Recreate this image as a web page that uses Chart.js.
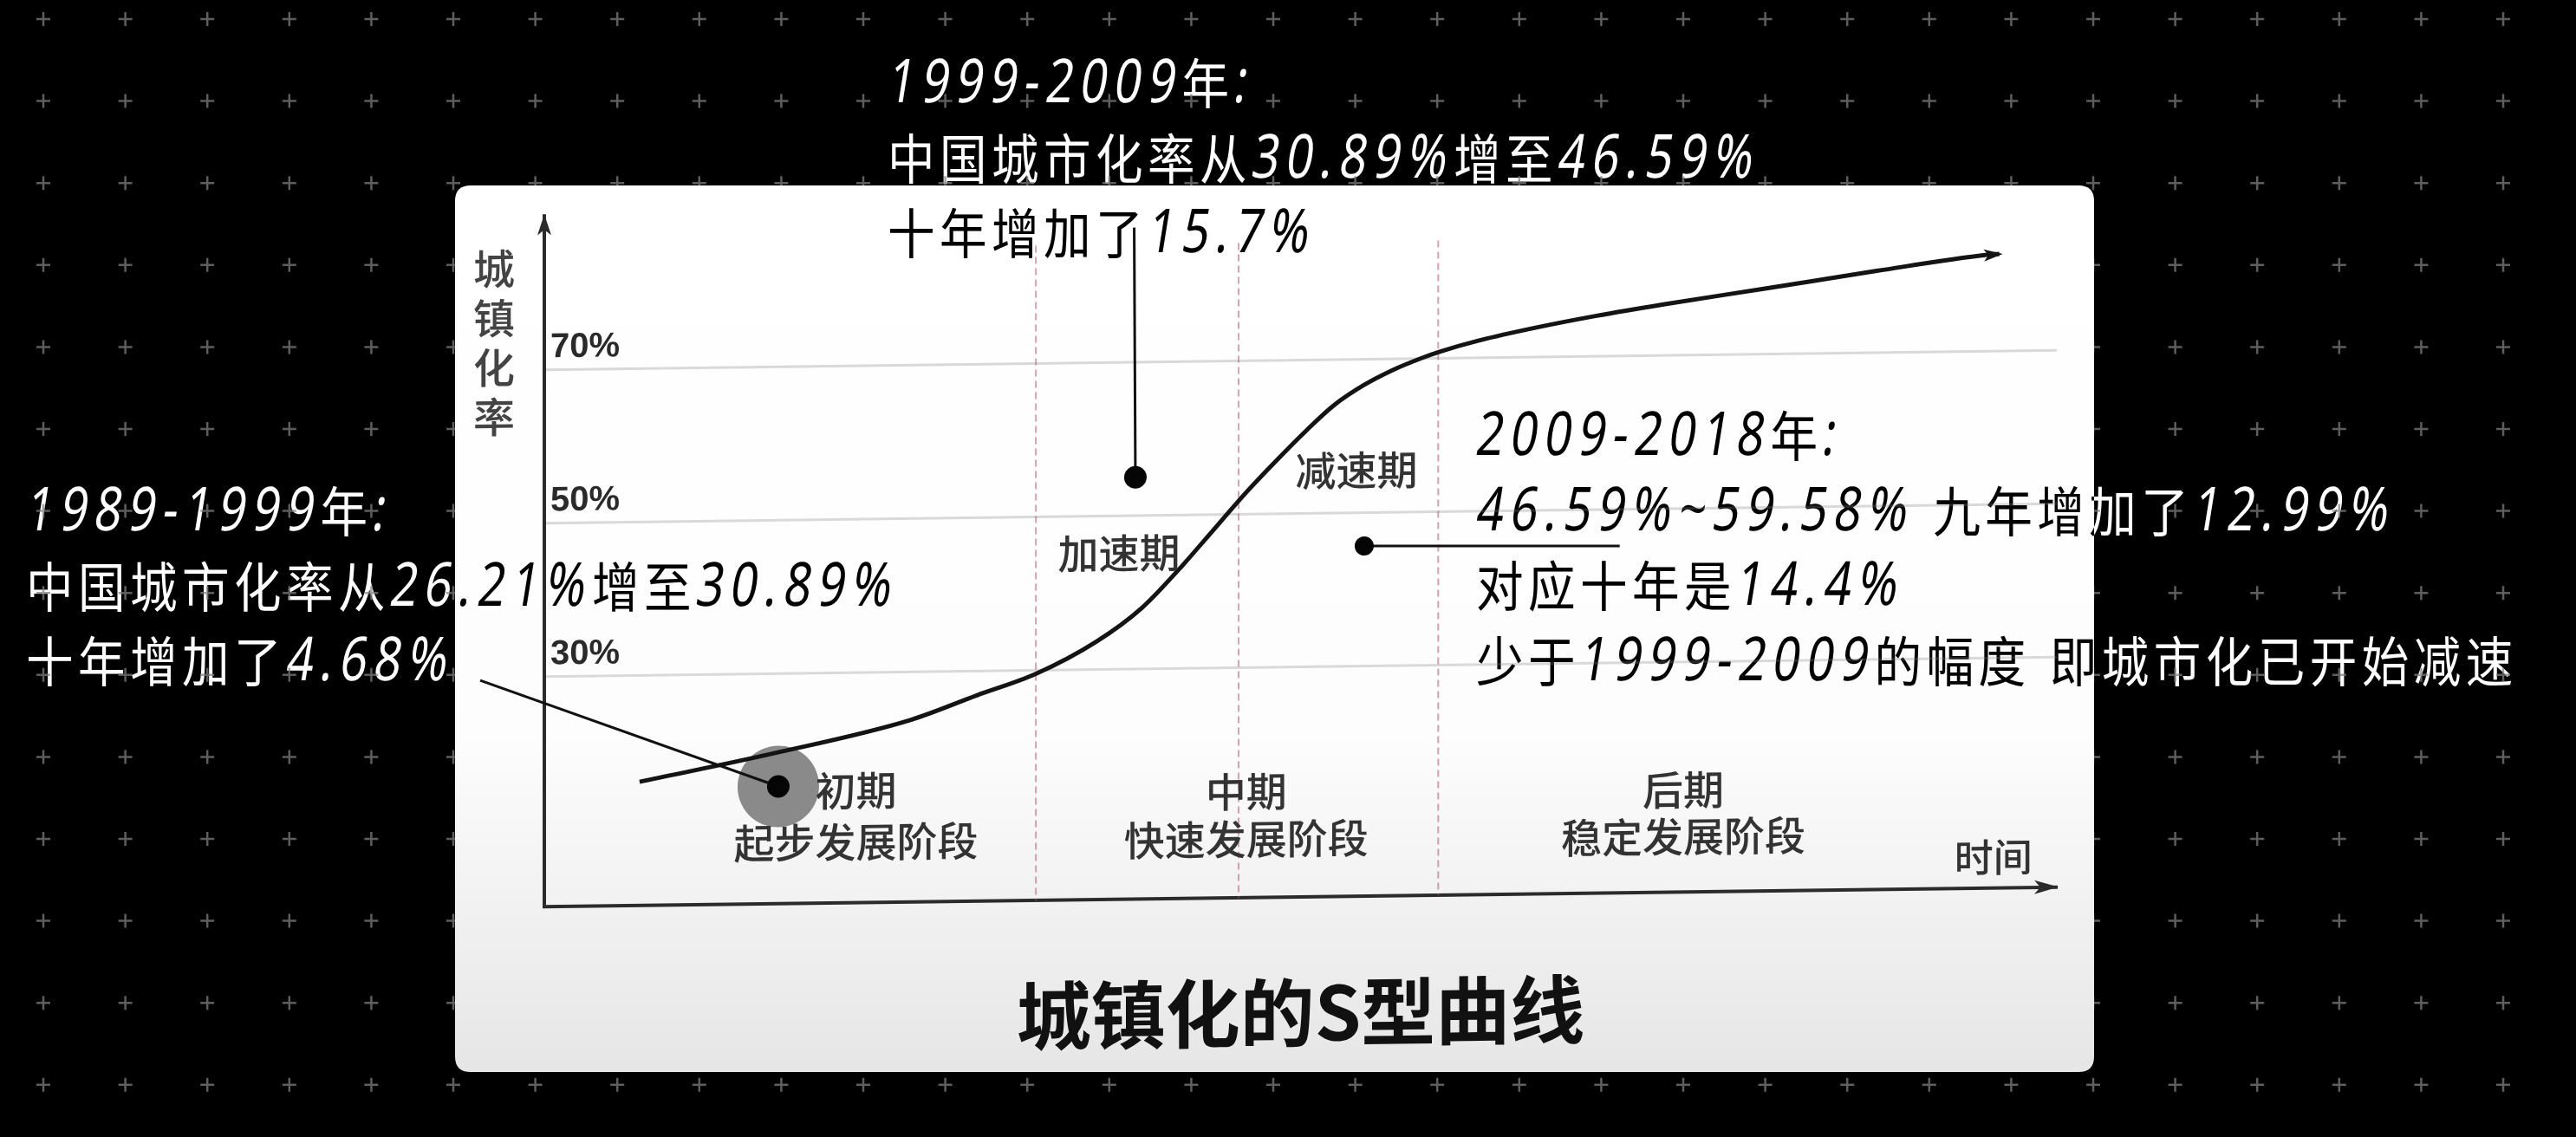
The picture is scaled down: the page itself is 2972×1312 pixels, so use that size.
<!DOCTYPE html>
<html>
<head>
<meta charset="utf-8">
<script src="https://cdn.jsdelivr.net/npm/chart.js@4.4.1/dist/chart.umd.min.js"></script>
<style>
html,body{margin:0;padding:0;background:#000;overflow:hidden}
canvas{display:block}
</style>
</head>
<body>
<canvas id="c" width="2972" height="1312" style="width:2972px;height:1312px"></canvas>
<script>
// ---------------- data ----------------
const timeIndex = [6.3, 15.2, 24.2, 28.6, 32.5, 36.5, 39.5, 42.2, 43.9, 46.5, 48.4, 50.4, 52.2, 54.2, 56.1, 58.0, 59.2, 61.8, 65.6, 69.5, 74.0, 80.8, 88.1, 95.4, 96.2];
const urbanRate = [16.1, 19.6, 23.7, 26.8, 29.5, 33.6, 37.9, 43.4, 47.2, 53.0, 56.9, 60.8, 64.0, 66.6, 68.5, 70.0, 70.8, 72.2, 73.8, 75.2, 76.6, 78.5, 80.6, 82.5, 82.6];
const yTickValues = [30, 50, 70];
const phaseBoundaries = [32.5, 45.9, 59.1];
const phaseNames = ['初期', '中期', '后期'];
const phaseStages = ['起步发展阶段', '快速发展阶段', '稳定发展阶段'];
const trendNames = ['加速期', '减速期'];
const axisTitleY = '城镇化率';
const axisTitleX = '时间';
const chartTitle = '城镇化的S型曲线';
const noteTop = ['1999-2009年:', '中国城市化率从30.89%增至46.59%', '十年增加了15.7%'];
const noteLeft = ['1989-1999年:', '中国城市化率从26.21%增至30.89%', '十年增加了4.68%'];
const noteRight = ['2009-2018年:', '46.59%~59.58% 九年增加了12.99%', '对应十年是14.4%', '少于1999-2009的幅度 即城市化已开始减速'];

// ---------------- placement (data coordinates / layout) ----------------
const anchors = {
  phaseName: [[20.6, 14.6], [46.4, 13.8], [75.3, 13.3]],
  phaseStage: [[20.6, 7.9], [46.4, 7.6], [75.3, 7.2]],
  trend: [[38.0, 45.1], [53.7, 55.5]],
  xTitle: [95.8, 4.0],
  yTitleTop: 83.2,
  boundaryTop: 85.3,
  markers: [
    { dot: [15.47, 15.26], from: [-4.24, 29.6], r: 13, halo: 47 },
    { dot: [39.08, 54.95], from: [39.0, 87.5], r: 13, halo: 0 },
    { dot: [54.21, 45.61], from: [71.1, 45.18], r: 11, halo: 0 }
  ]
};
const noteBlocks = [
  { lines: noteTop, x: 1022, y: 118 },
  { lines: noteLeft, x: 28, y: 612 },
  { lines: noteRight, x: 1701, y: 525 }
];
const NOTE_LH = 86.5;
const SHEAR = -0.013, PIVOT = 1500;

function roundRect(ctx, x, y, w, h, r) {
  ctx.beginPath();
  ctx.moveTo(x + r, y);
  ctx.lineTo(x + w - r, y); ctx.quadraticCurveTo(x + w, y, x + w, y + r);
  ctx.lineTo(x + w, y + h - r); ctx.quadraticCurveTo(x + w, y + h, x + w - r, y + h);
  ctx.lineTo(x + r, y + h); ctx.quadraticCurveTo(x, y + h, x, y + h - r);
  ctx.lineTo(x, y + r); ctx.quadraticCurveTo(x, y, x + r, y);
  ctx.closePath();
}
function arrowHead(ctx, x, y, ang, len, half) {
  ctx.save();
  ctx.translate(x, y); ctx.rotate(ang);
  ctx.beginPath();
  ctx.moveTo(0, 0); ctx.lineTo(-len, -half); ctx.lineTo(-len * 0.75, 0); ctx.lineTo(-len, half);
  ctx.closePath(); ctx.fill();
  ctx.restore();
}
function isWide(ch) { return ch.charCodeAt(0) > 0x2E7F; }
function drawNoteLine(ctx, str, x, y) {
  const cjk = '400 62px "Noto Sans CJK SC", sans-serif';
  const lat = '400 70px "Noto Sans", "DejaVu Sans", sans-serif';
  for (const ch of str) {
    if (isWide(ch)) {
      ctx.font = cjk;
      ctx.save();
      ctx.transform(0.88, 0, 0, 1, x + 2, y + 2);
      ctx.fillText(ch, 0, 0);
      ctx.restore();
      x += 60;
    } else {
      ctx.font = lat;
      const w = ctx.measureText(ch).width;
      ctx.save();
      ctx.transform(0.78, 0, -0.16, 1, x, y);
      ctx.fillText(ch, 0, 0);
      ctx.restore();
      x += w * 0.78 + 8;
    }
  }
}

const scenePlugin = {
  id: 'scene',
  beforeDraw(chart) {
    const ctx = chart.ctx, W = chart.width, H = chart.height;
    ctx.save();
    ctx.fillStyle = '#000'; ctx.fillRect(0, 0, W, H);
    ctx.strokeStyle = '#5e5e5e'; ctx.lineWidth = 2.5;
    for (let y = 22; y < H + 10; y += 94.6) {
      for (let x = 50; x < W + 10; x += 94.6) {
        ctx.beginPath();
        ctx.moveTo(x - 8, y); ctx.lineTo(x + 8, y);
        ctx.moveTo(x, y - 8); ctx.lineTo(x, y + 8);
        ctx.stroke();
      }
    }
    const g = ctx.createLinearGradient(0, 214, 0, 1237);
    g.addColorStop(0, '#ffffff'); g.addColorStop(0.62, '#fdfdfd'); g.addColorStop(1, '#e6e6e6');
    ctx.fillStyle = g;
    roundRect(ctx, 525, 214, 1891, 1023, 18); ctx.fill();
    ctx.restore();
    ctx.save();
    ctx.transform(1, SHEAR, 0, 1, 0, -SHEAR * PIVOT);
  },
  beforeDatasetsDraw(chart) {
    const ctx = chart.ctx, xs = chart.scales.x, ys = chart.scales.y;
    ctx.save();
    ctx.strokeStyle = 'rgba(176,104,124,0.6)'; ctx.lineWidth = 2; ctx.setLineDash([8, 5]);
    phaseBoundaries.forEach(b => {
      const px = xs.getPixelForValue(b);
      ctx.beginPath(); ctx.moveTo(px, ys.getPixelForValue(anchors.boundaryTop)); ctx.lineTo(px, ys.getPixelForValue(0)); ctx.stroke();
    });
    ctx.setLineDash([]);
    anchors.markers.forEach(m => {
      if (m.halo) {
        ctx.fillStyle = '#8a8a8a';
        ctx.beginPath(); ctx.arc(xs.getPixelForValue(m.dot[0]), ys.getPixelForValue(m.dot[1]), m.halo, 0, Math.PI * 2); ctx.fill();
      }
    });
    ctx.restore();
  },
  afterDatasetsDraw(chart) {
    const ctx = chart.ctx, xs = chart.scales.x, ys = chart.scales.y, ca = chart.chartArea;
    ctx.save();
    ctx.fillStyle = '#2b2b2b';
    arrowHead(ctx, ca.left, ca.top - 2, -Math.PI / 2, 24, 8);
    arrowHead(ctx, ca.right + 2, ca.bottom, 0, 28, 8);
    // curve end arrow
    const n = timeIndex.length;
    const x1 = xs.getPixelForValue(timeIndex[n - 2]), y1 = ys.getPixelForValue(urbanRate[n - 2]);
    const x2 = xs.getPixelForValue(timeIndex[n - 1]), y2 = ys.getPixelForValue(urbanRate[n - 1]);
    ctx.fillStyle = '#141414';
    arrowHead(ctx, x2 + 4, y2, Math.atan2(y2 - y1, x2 - x1), 22, 7);
    // markers and leaders
    ctx.strokeStyle = '#111'; ctx.lineWidth = 3; ctx.fillStyle = '#050505';
    anchors.markers.forEach(m => {
      const dx = xs.getPixelForValue(m.dot[0]), dy = ys.getPixelForValue(m.dot[1]);
      ctx.beginPath(); ctx.moveTo(xs.getPixelForValue(m.from[0]), ys.getPixelForValue(m.from[1])); ctx.lineTo(dx, dy); ctx.stroke();
      ctx.beginPath(); ctx.arc(dx, dy, m.r, 0, Math.PI * 2); ctx.fill();
    });
    // in-chart labels
    ctx.fillStyle = '#333'; ctx.textAlign = 'center'; ctx.textBaseline = 'middle';
    ctx.font = '500 47px "Noto Sans CJK SC", sans-serif';
    phaseNames.forEach((t, i) => ctx.fillText(t, xs.getPixelForValue(anchors.phaseName[i][0]), ys.getPixelForValue(anchors.phaseName[i][1])));
    phaseStages.forEach((t, i) => ctx.fillText(t, xs.getPixelForValue(anchors.phaseStage[i][0]), ys.getPixelForValue(anchors.phaseStage[i][1])));
    trendNames.forEach((t, i) => ctx.fillText(t, xs.getPixelForValue(anchors.trend[i][0]), ys.getPixelForValue(anchors.trend[i][1])));
    ctx.font = '500 45px "Noto Sans CJK SC", sans-serif';
    ctx.fillText(axisTitleX, xs.getPixelForValue(anchors.xTitle[0]), ys.getPixelForValue(anchors.xTitle[1]));
    ctx.fillStyle = '#444';
    ctx.font = '500 48px "Noto Sans CJK SC", sans-serif';
    const ty = ys.getPixelForValue(anchors.yTitleTop);
    [...axisTitleY].forEach((c, i) => ctx.fillText(c, ca.left - 58, ty + i * 57));
    ctx.restore();
  },
  afterDraw(chart) {
    const ctx = chart.ctx;
    ctx.restore();
    ctx.save();
    ctx.globalCompositeOperation = 'difference';
    ctx.fillStyle = '#ffffff';
    ctx.textAlign = 'left'; ctx.textBaseline = 'alphabetic';
    noteBlocks.forEach(b => b.lines.forEach((l, i) => drawNoteLine(ctx, l, b.x, b.y + i * NOTE_LH)));
    ctx.restore();
  }
};

new Chart(document.getElementById('c'), {
  type: 'line',
  data: {
    datasets: [{
      data: timeIndex.map((t, i) => ({ x: t, y: urbanRate[i] })),
      borderColor: '#141414',
      borderWidth: 5,
      pointRadius: 0,
      cubicInterpolationMode: 'monotone',
      fill: false
    }]
  },
  options: {
    responsive: false,
    maintainAspectRatio: false,
    devicePixelRatio: 1,
    animation: false,
    events: [],
    layout: { padding: { left: 628, right: 599, top: 238, bottom: 0 } },
    plugins: {
      legend: { display: false },
      tooltip: { enabled: false },
      title: {
        display: true, text: chartTitle, position: 'bottom', color: '#111',
        font: { family: '"Noto Sans CJK SC", sans-serif', size: 86, weight: 'bold', lineHeight: 1.2 },
        padding: { top: 82, bottom: 92 }
      }
    },
    scales: {
      x: {
        type: 'linear', min: 0, max: 100,
        ticks: { display: false },
        grid: { display: false },
        border: { display: true, color: '#2b2b2b', width: 4 },
        afterFit(s) { s.height = 0; }
      },
      y: {
        type: 'linear', min: 0, max: 90,
        afterBuildTicks(s) { s.ticks = yTickValues.map(v => ({ value: v })); },
        ticks: {
          mirror: true, padding: 7, labelOffset: -25,
          callback: v => v + '%',
          color: '#2a2a2a',
          font: { family: '"Liberation Sans", Arial, sans-serif', size: 40, weight: 'bold' }
        },
        grid: { color: '#d9d9d9', lineWidth: 3, drawTicks: false },
        border: { display: true, color: '#2b2b2b', width: 4 },
        afterFit(s) { s.width = 0; }
      }
    }
  },
  plugins: [scenePlugin]
});
</script>
</body>
</html>
